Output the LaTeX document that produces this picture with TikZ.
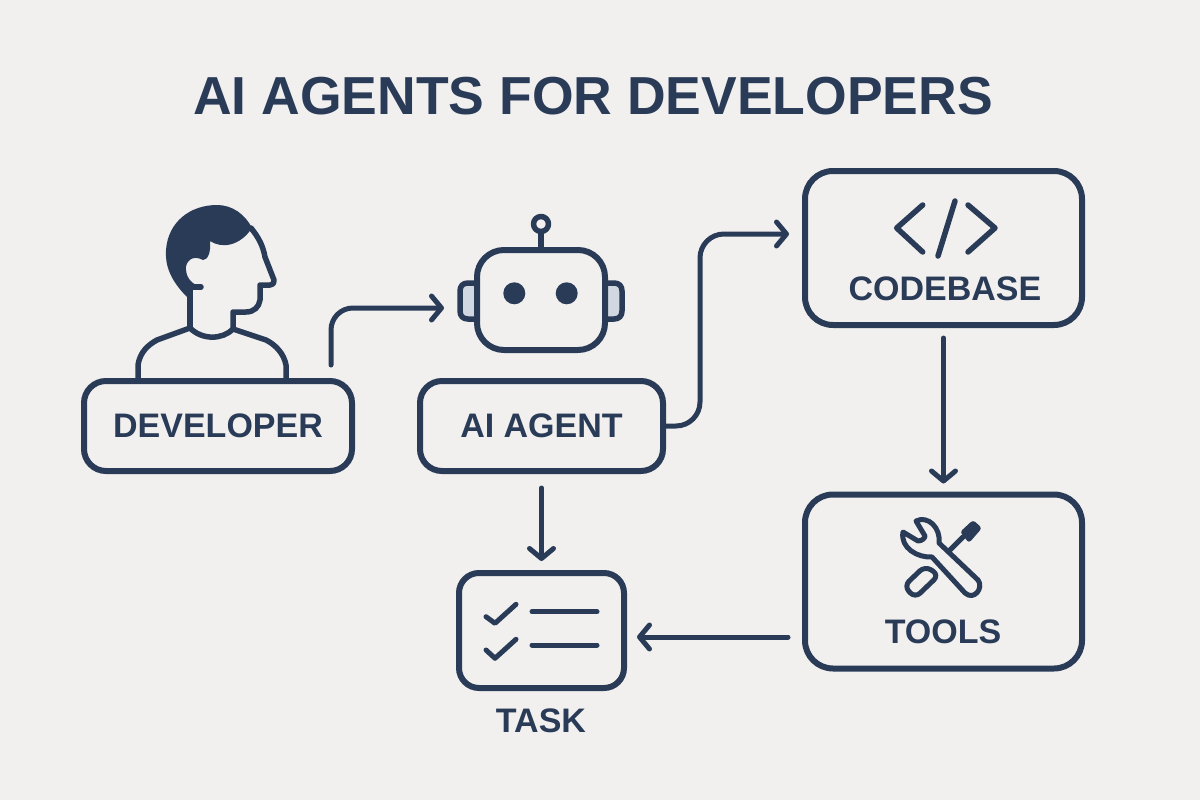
\documentclass[tikz,border=0pt]{standalone}
\usepackage{fontspec}
\setmainfont{Liberation Sans}
\usepackage{xcolor}
\usetikzlibrary{arrows.meta}
\definecolor{inkblue}{HTML}{2A3B57}
\definecolor{earfill}{HTML}{D2D8E2}
\definecolor{paper}{HTML}{F1F0EF}
\tikzset{
    box/.style={
        draw=inkblue,
        line width=6pt,
        rounded corners=#1,
        inner sep=0pt,
        outer sep=0pt,
        text=inkblue,
        font=\fontsize{34}{34}\selectfont\bfseries
    },
    box/.default=22pt,
    caption/.style={
        text=inkblue,
        inner sep=0pt,
        font=\fontsize{34}{34}\selectfont\bfseries
    },
    flow/.style={
        draw=inkblue,
        line width=5pt,
        line cap=round,
        -{Straight Barb[length=10pt, width=24pt, line width=5pt, round]}
    },
    icon/.style={
        draw=inkblue,
        line width=5.5pt,
        line cap=round,
        line join=round
    },
    thinicon/.style={
        icon,
        line width=5pt
    }
}

\begin{document}
\begin{tikzpicture}[x=1pt, y=-1pt]
    \useasboundingbox[fill=paper] (0,0) rectangle (1200,800);

    % Title
    \node[text=inkblue, inner sep=0pt, font=\fontsize{53.5}{54}\selectfont\bfseries] (title) at (593,96) {AI AGENTS FOR DEVELOPERS};

    % Person
    \fill[inkblue] (252,228) .. controls (240,246) and (222,249) .. (210,241)
        .. controls (211,252) and (208,260) .. (203,260)
        .. controls (192,254) and (185,262) .. (186,270)
        .. controls (187,279) and (192,284) .. (201,287)
        -- (190,287) -- (187,297)
        .. controls (170,280) and (165,265) .. (166,250)
        .. controls (168,222) and (190,205) .. (217,205)
        .. controls (232,205) and (245,214) .. (252,228) -- cycle;
    \draw[icon] (190,287) -- (201,287);
    \draw[icon] (190,287) -- (190,328);
    \draw[icon] (251,228) .. controls (259,238) and (263,246) .. (265,257)
        -- (274,280) .. controls (274,284) and (272,285) .. (270,285)
        -- (260,285) -- (260,300)
        .. controls (259,307) and (254,312) .. (246,312)
        -- (233,312) -- (233,329);
    \draw[icon] (138,378) -- (138,365) .. controls (140,352) and (148,345) .. (157,340)
        -- (190,328) .. controls (202,340) and (222,340) .. (233,329)
        -- (266,340) .. controls (276,345) and (284,354) .. (286,365) -- (286,378);

    % Robot
    \filldraw[icon, fill=earfill] (477,283) -- (468,283) .. controls (463,283) and (460,286) .. (460,291)
        -- (460,311) .. controls (460,316) and (463,319) .. (468,319) -- (477,319);
    \filldraw[icon, fill=earfill] (605,283) -- (614,283) .. controls (619,283) and (622,286) .. (622,291)
        -- (622,311) .. controls (622,316) and (619,319) .. (614,319) -- (605,319);
    \node[box=27pt, fill=paper, minimum width=128pt, minimum height=100pt] (robot) at (541,300) {};
    \draw[icon, fill=paper] (541,224) circle (7.5pt);
    \draw[icon] (541,232) -- (robot.north);
    \fill[inkblue] (514.3,293.3) circle (11pt) (566.7,293.3) circle (11pt);

    % Boxes
    \node[box, minimum width=268pt, minimum height=90pt] (developer) at (218,426) {DEVELOPER};
    \node[box, minimum width=243pt, minimum height=90pt] (agent) at (541.5,426) {AI AGENT};
    \node[box=28pt, minimum width=277pt, minimum height=154pt] (codebase) at (943.5,248) {};
    \node[box=28pt, minimum width=277pt, minimum height=174pt] (tools) at (943.5,581.5) {};
    \node[box=20pt, minimum width=165pt, minimum height=115pt] (task) at (541.5,630.5) {};

    % Labels
    \node[caption] (codebaselabel) at (945,289) {CODEBASE};
    \node[caption] (toolslabel) at (943,632) {TOOLS};
    \node[caption] (tasklabel) at (541,721) {TASK};

    % Code icon
    \draw[icon] (922.7,205) -- (896.7,228) -- (922.7,252);
    \draw[icon] (938,256) -- (955,201);
    \draw[icon] (968,205) -- (995,228) -- (968,252);

    % Wrench and screwdriver
    \draw[thinicon] (916,521) .. controls (928,515) and (941,528) .. (939,543)
        -- (978,580) .. controls (984,588) and (974,601) .. (965,593)
        -- (932,557) .. controls (918,558) and (900,548) .. (903,532)
        -- (918,541) .. controls (922,541) and (925,538) .. (925,536) -- cycle;
    \draw[thinicon] (950,550) -- (963,537);
    \fill[inkblue, rounded corners=3pt] (960,532) -- (973,520) -- (982,528) -- (969,543) -- cycle;
    \draw[thinicon, rounded corners=7pt] (925,566) -- (904,586) -- (915,598) -- (939,575) -- cycle;

    % Task list
    \draw[thinicon] (486,616.7) -- (495,623.3) -- (516,604.3);
    \draw[thinicon] (486,650) -- (495,658.3) -- (516,639.3);
    \draw[thinicon] (532,611.7) -- (597,611.7);
    \draw[thinicon] (532,645) -- (597,645);

    % Connectors
    \draw[flow, rounded corners=22pt, shorten <=16pt, shorten >=33pt] ([xshift=113pt]developer.north) |- ([yshift=-8pt]robot.west);
    \draw[flow, rounded corners=24pt, shorten >=16pt] (agent.east) -- ++(37,0) |- ([yshift=14pt]codebase.west);
    \draw[flow, shorten <=13pt, shorten >=11pt] (codebase.south) -- (tools.north);
    \draw[flow, shorten <=17pt, shorten >=12pt] (agent.south) -- (task.north);
    \draw[flow, shorten <=17pt, shorten >=13pt] ([yshift=-55.5pt]tools.west) -- ([yshift=-6.5pt]task.east);
\end{tikzpicture}
\end{document}
